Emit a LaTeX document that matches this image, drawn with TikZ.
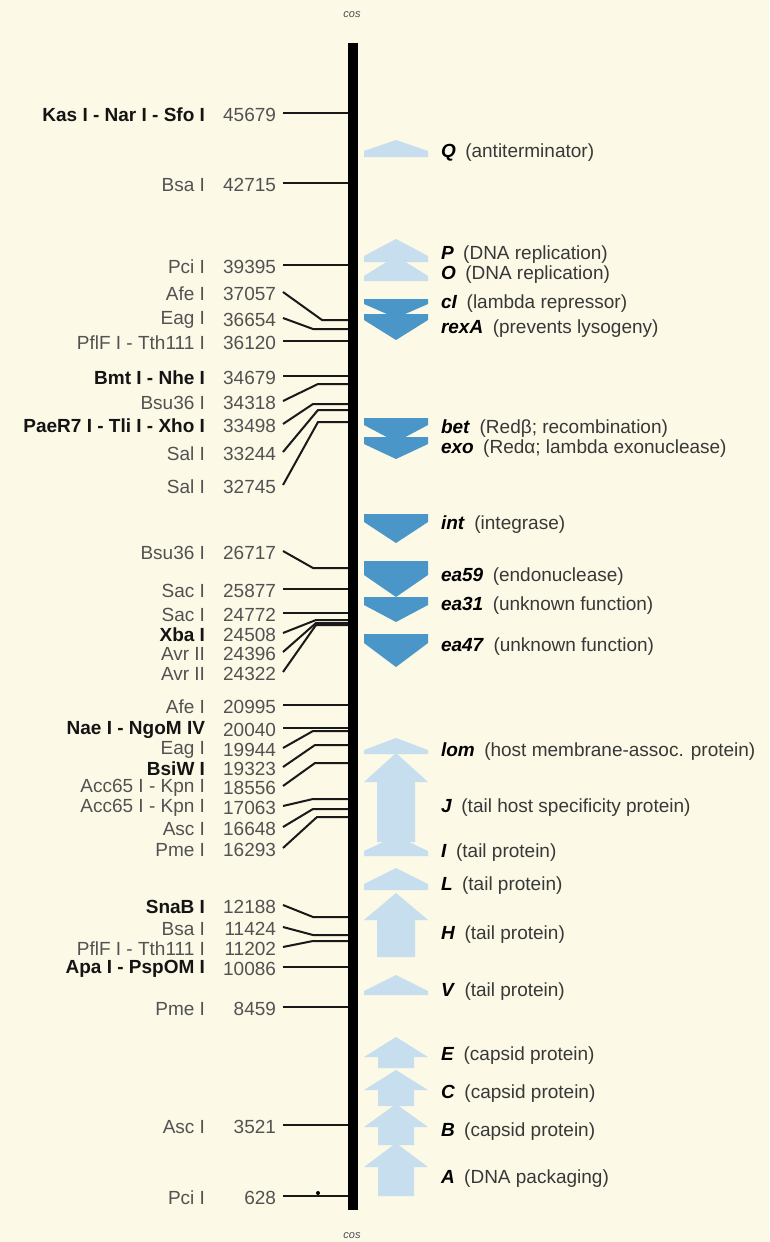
\documentclass[tikz,border=0pt]{standalone}
\usepackage{fontspec}
\setmainfont{Liberation Sans}
\begin{document}
\begin{tikzpicture}[x=1pt,y=-1pt,
  every node/.style={inner sep=0pt, outer sep=0pt},
  txt/.style={yshift=-2pt, font=\fontsize{19}{21}\selectfont},
  nametxt/.style={txt, text=black!68},
  boldtxt/.style={txt, text=black!92, font=\fontsize{19}{21}\selectfont\bfseries},
  numtxt/.style={txt, text=black!68},
  genetxt/.style={txt, text=black!78},
  costxt/.style={text=black!70, font=\fontsize{11}{12}\selectfont\itshape},
  leader/.style={draw=black!90, line width=2pt},
  fwd/.style={fill=lightgene, draw=none},
  rev/.style={fill=darkgene, draw=none}]
\definecolor{paper}{RGB}{252,249,230}
\definecolor{lightgene}{RGB}{198,222,238}
\definecolor{darkgene}{RGB}{74,150,200}

% page
\fill[paper] (0,0) rectangle (769,1242);
\useasboundingbox (0,0) rectangle (769,1242);

% genome axis
\node[costxt] (costop) at (352,15) {cos};
\node[costxt] (cosbot) at (352,1236) {cos};
\fill[black] (348,43) rectangle (358,1210);

% restriction site: id, style, enzyme, position, text y, knee x, site y
\newcommand\site[7]{%
  \node[#2, anchor=east] (e#1) at (205,#5) {#3};
  \node[numtxt, anchor=east] (n#1) at (276,#5) {#4};
  \coordinate (k#1) at (#6,#7);
  \coordinate (b#1) at (348,#7);
  \draw[leader] ([xshift=7pt,yshift=2pt]n#1.east) -- (k#1) -- (b#1);
}
\site{1}{boldtxt}{Kas I - Nar I - Sfo I}{45679}{113}{300}{113}
\site{2}{nametxt}{Bsa I}{42715}{183}{300}{183}
\site{3}{nametxt}{Pci I}{39395}{265}{300}{265}
\site{4}{nametxt}{Afe I}{37057}{292}{322}{320}
\site{5}{nametxt}{Eag I}{36654}{318}{313}{329}
\site{6}{nametxt}{PflF I - Tth111 I}{36120}{341}{300}{341}
\site{7}{boldtxt}{Bmt I - Nhe I}{34679}{376}{300}{376}
\site{8}{nametxt}{Bsu36 I}{34318}{401}{318}{384}
\site{9}{boldtxt}{PaeR7 I - Tli I - Xho I}{33498}{424}{313}{404}
\site{10}{nametxt}{Sal I}{33244}{452}{318}{410}
\site{11}{nametxt}{Sal I}{32745}{485}{318}{422}
\site{12}{nametxt}{Bsu36 I}{26717}{551}{313}{568}
\site{13}{nametxt}{Sac I}{25877}{589}{300}{589}
\site{14}{nametxt}{Sac I}{24772}{613}{300}{613}
\site{15}{boldtxt}{Xba I}{24508}{633}{316}{620}
\site{16}{nametxt}{Avr II}{24396}{652}{316}{623}
\site{17}{nametxt}{Avr II}{24322}{672}{316}{625}
\site{18}{nametxt}{Afe I}{20995}{705}{300}{705}
\site{19}{boldtxt}{Nae I - NgoM IV}{20040}{728}{300}{728}
\site{20}{nametxt}{Eag I}{19944}{748}{313}{731}
\site{21}{boldtxt}{BsiW I}{19323}{767}{315}{745}
\site{22}{nametxt}{Acc65 I - Kpn I}{18556}{786}{315}{763}
\site{23}{nametxt}{Acc65 I - Kpn I}{17063}{806}{313}{799}
\site{24}{nametxt}{Asc I}{16648}{827}{313}{809}
\site{25}{nametxt}{Pme I}{16293}{848}{317}{817}
\site{26}{boldtxt}{SnaB I}{12188}{905}{313}{917}
\site{27}{nametxt}{Bsa I}{11424}{927}{313}{935}
\site{28}{nametxt}{PflF I - Tth111 I}{11202}{947}{313}{941}
\site{29}{boldtxt}{Apa I - PspOM I}{10086}{967}{300}{967}
\site{30}{nametxt}{Pme I}{8459}{1007}{300}{1007}
\site{31}{nametxt}{Asc I}{3521}{1125}{300}{1125}
\site{32}{nametxt}{Pci I}{628}{1196}{300}{1196}
\fill[black] (318,1193) circle (2);

% genes: rightward genes point up, leftward genes point down
% \geneup{tip}{head base}{bottom}{shaft half width}
\newcommand\geneup[4]{%
  \fill[fwd] (396,#1) -- (428,#2) -- ({396+#4},#2) -- ({396+#4},#3)
    -- ({396-#4},#3) -- ({396-#4},#2) -- (364,#2) -- cycle;
}
% \genedown{top}{head base}{tip}{shaft half width}
\newcommand\genedown[4]{%
  \fill[rev] ({396-#4},#1) -- ({396+#4},#1) -- ({396+#4},#2) -- (428,#2)
    -- (396,#3) -- (364,#2) -- ({396-#4},#2) -- cycle;
}
\geneup{140}{151}{157}{32}   % Q
\geneup{239}{256}{262}{32}   % P
\geneup{256}{276}{281}{32}   % O
\genedown{299}{304}{318}{32} % cI
\genedown{314}{320}{340}{32} % rexA
\genedown{418}{425}{442}{32} % bet
\genedown{437}{444}{459}{32} % exo
\genedown{514}{522}{543}{32} % int
\genedown{561}{575}{597}{32} % ea59
\genedown{597}{605}{622}{32} % ea31
\genedown{634}{643}{667}{32} % ea47
\geneup{738}{750}{754}{32}   % lom
\geneup{753}{782}{842}{19}   % J
\geneup{836}{851}{856}{32}   % I
\geneup{868}{884}{890}{32}   % L
\geneup{893}{920}{957}{19}   % H
\geneup{975}{991}{995}{32}   % V
\geneup{1037}{1057}{1068}{18} % E
\geneup{1070}{1090}{1106}{18} % C
\geneup{1104}{1127}{1145}{18} % B
\geneup{1143}{1167}{1196}{18} % A

% gene labels
\newcommand\gname[1]{\textcolor{black}{\textbf{\textit{#1}}}\hspace{0.5em}}
\node[genetxt, anchor=west] (gQ) at (441,151) {\gname{Q}(antiterminator)};
\node[genetxt, anchor=west] (gP) at (441,253) {\gname{P}(DNA replication)};
\node[genetxt, anchor=west] (gO) at (441,273) {\gname{O}(DNA replication)};
\node[genetxt, anchor=west] (gcI) at (441,302) {\gname{cI}(lambda repressor)};
\node[genetxt, anchor=west] (grexA) at (441,327) {\gname{rexA}(prevents lysogeny)};
\node[genetxt, anchor=west] (gbet) at (441,427) {\gname{bet}(Redβ; recombination)};
\node[genetxt, anchor=west] (gexo) at (441,447) {\gname{exo}(Redα; lambda exonuclease)};
\node[genetxt, anchor=west] (gint) at (441,523) {\gname{int}(integrase)};
\node[genetxt, anchor=west] (gea59) at (441,575) {\gname{ea59}(endonuclease)};
\node[genetxt, anchor=west] (gea31) at (441,604) {\gname{ea31}(unknown function)};
\node[genetxt, anchor=west] (gea47) at (441,645) {\gname{ea47}(unknown function)};
\node[genetxt, anchor=west] (glom) at (441,750) {\gname{lom}(host membrane-assoc. protein)};
\node[genetxt, anchor=west] (gJ) at (441,806) {\gname{J}(tail host specificity protein)};
\node[genetxt, anchor=west] (gI) at (441,851) {\gname{I}(tail protein)};
\node[genetxt, anchor=west] (gL) at (441,884) {\gname{L}(tail protein)};
\node[genetxt, anchor=west] (gH) at (441,933) {\gname{H}(tail protein)};
\node[genetxt, anchor=west] (gV) at (441,990) {\gname{V}(tail protein)};
\node[genetxt, anchor=west] (gE) at (441,1054) {\gname{E}(capsid protein)};
\node[genetxt, anchor=west] (gC) at (441,1092) {\gname{C}(capsid protein)};
\node[genetxt, anchor=west] (gB) at (441,1130) {\gname{B}(capsid protein)};
\node[genetxt, anchor=west] (gA) at (441,1177) {\gname{A}(DNA packaging)};
\end{tikzpicture}
\end{document}
